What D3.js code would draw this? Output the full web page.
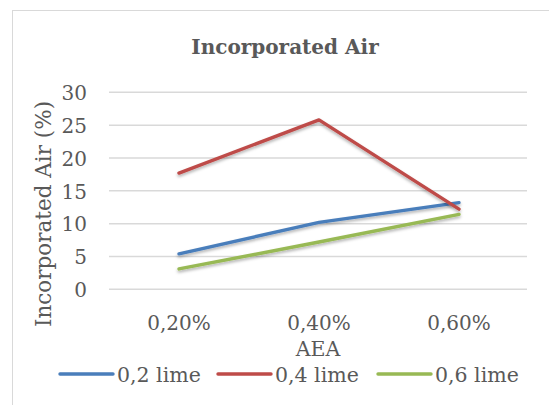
<!DOCTYPE html>
<html><head><meta charset="utf-8">
<script src="https://cdn.jsdelivr.net/npm/d3@7"></script>
<style>body{margin:0;background:#fff;} text{font-family:"DejaVu Serif",serif;fill:#595959;}</style>
</head><body>
<svg id="c" width="549" height="405"></svg>
<script>
const categories = ["0,20%", "0,40%", "0,60%"];
const seriesNames = ["0,2 lime", "0,4 lime", "0,6 lime"];
const lime02 = [5.4, 10.2, 13.2];
const lime04 = [17.7, 25.8, 12.2];
const lime06 = [3.1, 7.2, 11.4];
const yTicks = [0, 5, 10, 15, 20, 25, 30];
const colors = ["#4A7EBB", "#BE4B48", "#98B954"];
const seriesValues = [lime02, lime04, lime06];

const svg = d3.select("#c");
const defs = svg.append("defs");
const f = defs.append("filter").attr("id","sh").attr("x","-10%").attr("y","-10%").attr("width","120%").attr("height","130%");
f.append("feDropShadow").attr("dx",0).attr("dy",2).attr("stdDeviation",1.5).attr("flood-color","#000").attr("flood-opacity",0.3);

svg.append("rect").attr("x",12.5).attr("y",10.5).attr("width",560).attr("height",420)
  .attr("fill","#fff").attr("stroke","#D9D9D9").attr("stroke-width",1);

const pLeft = 109, pRight = 529, pTop = 92.3, pBottom = 289.3;
const x = d3.scaleBand().domain(categories).range([pLeft, pRight]);
const y = d3.scaleLinear().domain([0, 30]).range([pBottom, pTop]);

// grid
svg.append("g").selectAll("line").data(yTicks).join("line")
  .attr("x1", pLeft).attr("x2", pRight - 2)
  .attr("y1", d => y(d)).attr("y2", d => y(d))
  .attr("stroke", "#D9D9D9").attr("stroke-width", 1.5);

// y axis labels
const yAxis = d3.axisLeft(y).tickValues(yTicks).tickSize(0).tickPadding(0).tickFormat(d3.format("d"));
const ya = svg.append("g").attr("transform", `translate(${pLeft-22},0)`).call(yAxis);
ya.select(".domain").remove();
ya.selectAll("text").attr("font-size", 20).attr("dy", "0.36em").style("font-family", '"DejaVu Serif",serif').attr("fill","#595959");

// x axis labels
const xAxis = d3.axisBottom(x).tickSize(0).tickPadding(0);
const xa = svg.append("g").attr("transform", `translate(0,${pBottom+25})`).call(xAxis);
xa.select(".domain").remove();
xa.selectAll("text").attr("font-size", 20).attr("dy", "0.8em").style("font-family", '"DejaVu Serif",serif').attr("fill","#595959");

// lines
const line = d3.line().x((d,i) => x(categories[i]) + x.bandwidth()/2).y(d => y(d));
svg.append("g").selectAll("path").data(seriesValues).join("path")
  .attr("d", d => line(d)).attr("fill","none")
  .attr("stroke", (d,i) => colors[i]).attr("stroke-width", 3.4)
  .attr("stroke-linejoin","round").attr("stroke-linecap","round")
  .attr("filter","url(#sh)");

// title
svg.append("text").attr("x", 285).attr("y", 54).attr("text-anchor","middle")
  .attr("font-size", 20).attr("font-weight","bold").text("Incorporated Air");

// axis titles
svg.append("text").attr("x", 318).attr("y", 356).attr("text-anchor","middle")
  .attr("font-size", 20.5).text("AEA");
svg.append("text").attr("transform", "translate(51,214) rotate(-90)").attr("text-anchor","middle")
  .attr("font-size", 21.5).text("Incorporated Air (%)");

// legend
const legX = [60, 218, 378];
const lg = svg.append("g").selectAll("g").data(seriesNames).join("g")
  .attr("transform", (d,i) => `translate(${legX[i]},374)`);
lg.append("line").attr("x1",0).attr("x2",53).attr("y1",0).attr("y2",0)
  .attr("stroke",(d,i)=>colors[i]).attr("stroke-width",3.4).attr("stroke-linecap","round");
lg.append("text").attr("x",57).attr("y",8).attr("font-size",20.5).text(d=>d);
</script>
</body></html>
